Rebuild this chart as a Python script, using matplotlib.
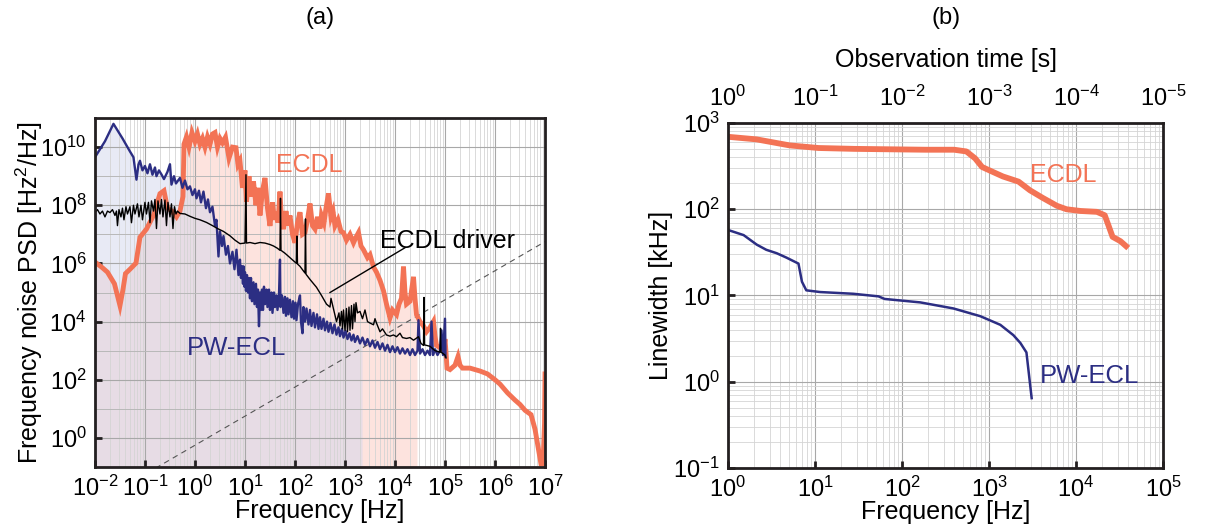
import numpy as np
import matplotlib
matplotlib.use("Agg")
import matplotlib.pyplot as plt
from matplotlib.ticker import FixedLocator, LogFormatterMathtext, NullFormatter

plt.rcParams.update({
    'font.family': ['Liberation Sans', 'DejaVu Sans'],
    'mathtext.fontset': 'custom',
    'mathtext.rm': 'Liberation Sans',
    'mathtext.it': 'Liberation Sans:italic',
    'mathtext.bf': 'Liberation Sans:bold',
    'mathtext.default': 'regular',
    'axes.unicode_minus': False,
})

# ---------------- data (log10 values) ----------------
# panel (a): frequency noise PSD, pairs (log10 f [Hz], log10 S [Hz^2/Hz])
pw_ecl_psd = [
    (-2.0, 9.65), (-1.8, 10.2), (-1.63, 10.8), (-1.45, 10.3), (-1.3, 9.85), (-1.23, 9.65),
    (-1.17, 8.88), (-1.13, 9.4), (-1.1, 9.53), (-1.05, 9.2), (-1.0, 9.35), (-0.95, 9.1),
    (-0.9, 9.41), (-0.85, 9.05), (-0.8, 9.3), (-0.77, 9.0), (-0.72, 9.2), (-0.67, 9.06),
    (-0.62, 8.9), (-0.55, 9.15), (-0.5, 9.41), (-0.47, 8.71), (-0.42, 9.0), (-0.38, 8.75),
    (-0.3, 8.94), (-0.25, 8.6), (-0.2, 8.85), (-0.15, 8.55), (-0.1, 8.65), (-0.05, 8.35),
    (0.0, 8.55), (0.03, 8.24), (0.08, 8.5), (0.12, 8.1), (0.17, 8.47), (0.22, 7.9),
    (0.26, 8.2), (0.3, 7.76), (0.35, 7.95), (0.4, 7.3), (0.43, 7.5), (0.47, 6.24),
    (0.5, 7.1), (0.54, 6.6), (0.57, 6.94), (0.62, 6.3), (0.66, 6.6), (0.7, 6.0),
    (0.75, 6.4), (0.79, 5.8), (0.83, 6.47), (0.87, 5.6), (0.9, 6.13), (0.92, 5.5),
    (0.94, 5.9), (0.96, 5.3), (0.97, 5.9), (0.99, 5.2), (1.0, 5.7), (1.02, 5.06),
    (1.04, 5.6), (1.06, 5.0), (1.08, 5.5), (1.1, 4.8), (1.12, 5.5), (1.14, 4.7),
    (1.17, 5.35), (1.19, 4.6), (1.22, 5.3), (1.24, 4.5), (1.26, 5.1), (1.28, 3.84),
    (1.3, 5.0), (1.32, 4.4), (1.34, 5.1), (1.36, 4.4), (1.38, 5.2), (1.4, 4.6),
    (1.43, 5.1), (1.45, 4.5), (1.48, 5.1), (1.5, 4.4), (1.53, 5.0), (1.55, 4.3),
    (1.58, 5.0), (1.6, 4.5), (1.63, 4.9), (1.65, 4.4), (1.68, 4.9), (1.7, 6.13),
    (1.71, 4.5), (1.74, 4.9), (1.77, 4.3), (1.8, 4.85), (1.82, 4.2), (1.85, 4.8),
    (1.87, 4.25), (1.9, 4.75), (1.93, 4.15), (1.96, 4.7), (1.98, 4.1), (2.01, 4.65),
    (2.03, 4.05), (2.06, 4.6), (2.1, 4.9), (2.12, 4.0), (2.15, 3.6), (2.17, 4.5),
    (2.2, 4.0), (2.23, 4.45), (2.27, 3.9), (2.3, 4.4), (2.33, 3.85), (2.37, 4.3),
    (2.4, 3.8), (2.44, 4.25), (2.47, 3.75), (2.5, 4.15), (2.53, 3.75), (2.57, 4.1),
    (2.6, 3.7), (2.64, 4.0), (2.67, 3.65), (2.71, 3.95), (2.75, 3.6), (2.79, 3.9),
    (2.83, 3.55), (2.87, 3.8), (2.9, 3.5), (2.94, 3.75), (2.97, 3.45), (3.01, 3.68),
    (3.05, 3.4), (3.09, 3.6), (3.13, 3.35), (3.17, 3.55), (3.2, 3.3), (3.25, 3.5),
    (3.3, 3.25), (3.35, 3.45), (3.4, 3.2), (3.45, 3.4), (3.5, 3.15), (3.55, 3.35),
    (3.6, 3.1), (3.65, 3.3), (3.7, 3.05), (3.75, 3.25), (3.8, 3.0), (3.85, 3.2),
    (3.9, 2.95), (3.95, 3.15), (4.0, 2.95), (4.05, 3.12), (4.1, 2.9), (4.15, 3.08),
    (4.2, 2.9), (4.25, 3.05), (4.3, 2.85), (4.35, 3.05), (4.4, 2.85), (4.45, 3.0),
    (4.47, 4.05), (4.5, 2.9), (4.55, 3.05), (4.6, 2.85), (4.65, 3.0), (4.7, 2.85),
    (4.73, 4.0), (4.76, 2.85), (4.8, 3.05), (4.85, 2.85), (4.9, 3.0), (4.93, 3.7),
    (4.96, 2.85), (5.0, 4.1), (5.01, 2.8),
]

ecdl_psd = [
    (-2.0, 6.05), (-1.85, 5.85), (-1.75, 5.7), (-1.61, 5.3), (-1.5, 4.55), (-1.44, 5.1),
    (-1.39, 5.65), (-1.3, 5.8), (-1.18, 6.01), (-1.1, 6.9), (-0.97, 7.18), (-0.83, 7.65),
    (-0.7, 8.4), (-0.62, 8.5), (-0.55, 7.9), (-0.46, 7.8), (-0.37, 7.6), (-0.3, 7.8),
    (-0.24, 8.3), (-0.22, 10.1), (-0.17, 10.35), (-0.12, 10.0), (-0.06, 10.5), (0.0, 10.2),
    (0.05, 10.45), (0.1, 10.1), (0.15, 10.3), (0.2, 10.0), (0.25, 10.35), (0.3, 10.1),
    (0.35, 10.45), (0.4, 10.5), (0.45, 10.0), (0.5, 10.3), (0.55, 10.15), (0.61, 10.34),
    (0.68, 9.62), (0.75, 10.0), (0.82, 9.98), (0.86, 9.4), (0.9, 9.53), (0.95, 8.6),
    (1.0, 9.2), (1.03, 8.12), (1.08, 9.0), (1.12, 8.3), (1.17, 8.82), (1.22, 8.0),
    (1.26, 8.6), (1.3, 7.65), (1.35, 8.5), (1.4, 8.94), (1.45, 7.9), (1.5, 7.29),
    (1.55, 8.1), (1.59, 7.5), (1.63, 7.76), (1.66, 7.4), (1.7, 8.47), (1.73, 7.5),
    (1.77, 7.18), (1.82, 7.8), (1.86, 7.3), (1.9, 7.65), (1.95, 7.0), (2.0, 6.71),
    (2.05, 7.4), (2.1, 7.76), (2.15, 7.0), (2.2, 7.06), (2.25, 7.5), (2.3, 8.06),
    (2.35, 7.3), (2.4, 7.18), (2.45, 7.6), (2.5, 7.2), (2.53, 7.65), (2.58, 7.4),
    (2.62, 7.9), (2.67, 8.41), (2.72, 7.6), (2.76, 7.8), (2.8, 7.29), (2.86, 7.5),
    (2.92, 7.1), (2.97, 7.06), (3.03, 6.8), (3.1, 7.0), (3.17, 6.71), (3.22, 6.9),
    (3.27, 7.06), (3.32, 6.6), (3.37, 6.47), (3.45, 6.2), (3.5, 6.3), (3.57, 5.88),
    (3.63, 5.7), (3.7, 5.42), (3.77, 5.06), (3.83, 4.6), (3.9, 4.13), (3.95, 4.4),
    (4.03, 4.24), (4.08, 4.6), (4.13, 4.8), (4.17, 5.89), (4.2, 5.0), (4.23, 4.6),
    (4.3, 4.7), (4.37, 5.54), (4.4, 4.8), (4.43, 4.24), (4.5, 4.0), (4.57, 3.85),
    (4.63, 3.65), (4.7, 3.8), (4.77, 4.01), (4.8, 3.5), (4.83, 3.18), (4.9, 3.1),
    (4.97, 3.0), (5.0, 3.4), (5.02, 2.95), (5.04, 2.4), (5.1, 2.35), (5.2, 2.5),
    (5.26, 2.8), (5.3, 2.5), (5.35, 2.4), (5.5, 2.4), (5.7, 2.3), (5.85, 2.2),
    (6.0, 2.0), (6.1, 1.85), (6.25, 1.55), (6.4, 1.3), (6.5, 1.15), (6.6, 0.95),
    (6.72, 0.8), (6.8, 0.3), (6.86, -0.3), (6.92, -0.9), (6.96, -0.9), (6.99, 0.5),
    (7.0, 2.2),
]

driver_psd = [
    (-2.0, 7.75), (-1.95, 7.85), (-1.9, 7.7), (-1.85, 7.8), (-1.8, 7.6), (-1.75, 7.8),
    (-1.7, 7.75), (-1.65, 7.85), (-1.6, 7.65), (-1.57, 7.8), (-1.55, 7.3), (-1.52, 7.85),
    (-1.48, 7.6), (-1.45, 7.9), (-1.42, 7.5), (-1.38, 7.95), (-1.35, 7.7), (-1.3, 7.95),
    (-1.27, 7.4), (-1.23, 8.0), (-1.2, 7.7), (-1.15, 8.05), (-1.12, 7.6), (-1.08, 8.0),
    (-1.05, 7.5), (-1.0, 8.1), (-0.97, 7.7), (-0.93, 8.1), (-0.9, 7.4), (-0.87, 8.15),
    (-0.83, 7.8), (-0.8, 8.2), (-0.77, 7.2), (-0.74, 8.15), (-0.7, 7.7), (-0.67, 8.2),
    (-0.64, 7.6), (-0.6, 8.18), (-0.57, 7.3), (-0.54, 8.1), (-0.5, 7.6), (-0.47, 8.05),
    (-0.44, 7.2), (-0.41, 7.95), (-0.38, 7.7), (-0.35, 7.8), (-0.3, 7.72), (-0.2, 7.7),
    (-0.1, 7.62), (0.0, 7.55), (0.1, 7.5), (0.23, 7.41), (0.35, 7.3), (0.45, 7.2),
    (0.57, 7.1), (0.7, 6.95), (0.8, 6.8), (0.9, 6.68), (1.0, 6.7), (1.02, 9.05),
    (1.03, 6.7), (1.1, 6.72), (1.2, 6.68), (1.3, 6.72), (1.4, 6.7), (1.5, 6.65),
    (1.57, 6.6), (1.65, 6.52), (1.7, 6.45), (1.71, 8.24), (1.72, 6.45), (1.8, 6.35),
    (1.9, 6.2), (2.0, 6.05), (2.03, 6.0), (2.04, 6.94), (2.05, 5.98), (2.1, 5.9),
    (2.2, 5.67), (2.21, 7.53), (2.22, 5.63), (2.3, 5.45), (2.43, 5.18), (2.53, 4.9),
    (2.63, 4.6), (2.7, 4.5), (2.72, 4.8), (2.83, 4.0), (2.88, 4.3), (2.9, 3.85),
    (2.93, 4.35), (2.95, 3.75), (2.97, 4.4), (3.0, 3.7), (3.03, 4.45), (3.05, 3.65),
    (3.08, 4.5), (3.1, 3.7), (3.13, 4.55), (3.15, 3.75), (3.18, 4.6), (3.2, 4.0),
    (3.22, 4.65), (3.25, 4.3), (3.3, 4.35), (3.35, 4.1), (3.4, 4.4), (3.45, 4.0),
    (3.5, 3.95), (3.57, 3.89), (3.6, 4.1), (3.63, 3.95), (3.7, 3.65), (3.75, 3.75),
    (3.83, 3.54), (3.9, 3.5), (3.97, 3.54), (4.03, 3.48), (4.1, 3.6), (4.15, 3.45),
    (4.23, 3.42), (4.3, 3.45), (4.37, 3.36), (4.47, 3.48), (4.52, 3.25), (4.57, 3.18),
    (4.58, 4.83), (4.59, 3.2), (4.7, 3.15), (4.8, 3.0), (4.9, 2.95), (4.91, 3.77),
    (4.92, 2.95), (5.0, 2.85), (5.02, 2.75),
]

# beta-separation reference line end points (Hz, Hz^2/Hz)
beta_line_f = [1e-2, 1e7]
beta_line_s = [5.6e-3, 5.6e6]

# integration upper limits used for the shaded areas (Hz)
pw_ecl_fill_max = 2.2e3
ecdl_fill_max = 2.75e4

# panel (b): linewidth vs frequency, log10 f [Hz] and log10 linewidth [kHz]
ecdl_lw_logf = [0.0, 0.33, 0.71, 1.04, 1.45, 2.27, 2.6, 2.74, 2.84, 2.92, 3.05, 3.16,
                3.34, 3.47, 3.62, 3.78, 3.89, 4.05, 4.24, 4.33, 4.37, 4.42, 4.51, 4.6]
ecdl_lw_log = [2.84, 2.81, 2.74, 2.71, 2.7, 2.69, 2.69, 2.67, 2.59, 2.49, 2.43, 2.38,
               2.32, 2.22, 2.13, 2.04, 2.0, 1.98, 1.97, 1.93, 1.82, 1.68, 1.63, 1.55]
pw_lw_logf = [0.0, 0.18, 0.33, 0.44, 0.56, 0.67, 0.81, 0.85, 0.9, 1.06, 1.44, 1.73,
              1.8, 2.21, 2.59, 2.9, 3.13, 3.28, 3.36, 3.43, 3.49]
pw_lw_log = [1.76, 1.70, 1.59, 1.53, 1.49, 1.44, 1.37, 1.16, 1.06, 1.04, 1.02, 0.99,
             0.96, 0.92, 0.85, 0.76, 0.66, 0.54, 0.45, 0.34, -0.19]

# tick definitions
a_xticks = [1e-2, 1e-1, 1e0, 1e1, 1e2, 1e3, 1e4, 1e5, 1e6, 1e7]
a_yticks = [1e0, 1e2, 1e4, 1e6, 1e8, 1e10]
b_xticks = [1e0, 1e1, 1e2, 1e3, 1e4, 1e5]
b_yticks = [1e-1, 1e0, 1e1, 1e2, 1e3]
obs_time_ticks = [1e0, 1e-1, 1e-2, 1e-3, 1e-4, 1e-5]
obs_time_labels = ['$10^{0}$', '$10^{-1}$', '$10^{-2}$', '$10^{-3}$', '$10^{-4}$', '$10^{-5}$']

# ---------------- styling ----------------
C_ECDL = '#f37355'
C_PW = '#2c2e83'
FS = 17

fig = plt.figure(figsize=(12.19, 5.29), dpi=100)
axa = fig.add_axes([0.0779, 0.1172, 0.3692, 0.6597])
axb = fig.add_axes([0.5972, 0.1153, 0.3569, 0.6522])


def to_arrays(pairs):
    arr = np.array(pairs, dtype=float)
    return np.power(10.0, arr[:, 0]), np.power(10.0, arr[:, 1])


def fill_under(ax, f, s, fmax, **kw):
    m = f <= fmax
    end = 10 ** np.interp(np.log10(fmax), np.log10(f), np.log10(s))
    fx = np.append(f[m], fmax)
    sx = np.append(s[m], end)
    ax.fill_between(fx, 1e-3, sx, lw=0, zorder=1, **kw)


def style_axes(ax):
    ax.set_axisbelow('line')
    for sp in ax.spines.values():
        sp.set_linewidth(2.0)
        sp.set_color('#231f20')
    ax.tick_params(which='major', direction='in', length=5, width=2, labelsize=FS,
                   color='#231f20', pad=6)
    ax.tick_params(which='minor', direction='in', length=0)
    ax.grid(which='major', color='#a8a8a8', lw=0.8)
    ax.grid(which='minor', color='#d4d4d4', lw=0.6)


# ---------------- panel (a) ----------------
f_pw, s_pw = to_arrays(pw_ecl_psd)
f_ec, s_ec = to_arrays(ecdl_psd)
f_dr, s_dr = to_arrays(driver_psd)

axa.set_xscale('log')
axa.set_yscale('log')
axa.set_xlim(1e-2, 1e7)
axa.set_ylim(1e-1, 1e11)

fill_under(axa, f_ec, s_ec, ecdl_fill_max, color='#fde3de')
fill_under(axa, f_pw, s_pw, pw_ecl_fill_max, color='#d3d7ec', alpha=0.5)

axa.plot(beta_line_f, beta_line_s, color='#555555', lw=0.8, ls=(0, (5, 4)), zorder=1.8)
axa.plot(f_ec, s_ec, color=C_ECDL, lw=3.5, zorder=2, solid_joinstyle='miter')
axa.plot(f_pw, s_pw, color=C_PW, lw=1.7, zorder=2.1)
axa.plot(f_dr, s_dr, color='black', lw=1.0, zorder=2.2)

style_axes(axa)
axa.xaxis.set_major_locator(FixedLocator(a_xticks))
axa.xaxis.set_major_formatter(LogFormatterMathtext())
axa.xaxis.set_minor_locator(FixedLocator(
    [m * d for d in a_xticks[:-1] for m in range(2, 10)]))
axa.xaxis.set_minor_formatter(NullFormatter())
axa.yaxis.set_major_locator(FixedLocator(a_yticks))
axa.yaxis.set_major_formatter(LogFormatterMathtext())
axa.yaxis.set_minor_locator(FixedLocator([10.0 ** k for k in range(-1, 12, 2)]))
axa.yaxis.set_minor_formatter(NullFormatter())
axa.grid(which='minor', axis='y', color='#b8b8b8', lw=0.7)

axa.text(10 ** 1.63, 10 ** 9.4, 'ECDL', color=C_ECDL, fontsize=18, va='center', ha='left')
axa.text(10 ** -0.16, 10 ** 3.1, 'PW-ECL', color=C_PW, fontsize=18.5, va='center', ha='left')
axa.text(10 ** 3.71, 10 ** 6.78, 'ECDL driver', color='black', fontsize=18, va='center', ha='left')
axa.plot([10 ** 2.7, 10 ** 4.2], [10 ** 5.0, 10 ** 6.54], color='black', lw=1.0, zorder=3)

axa.set_xlabel('Frequency [Hz]', fontsize=18)
axa.xaxis.set_label_coords(0.5, -0.093)
axa.set_ylabel('Frequency noise PSD [Hz$^2$/Hz]', fontsize=18)
axa.yaxis.set_label_coords(-0.112, 0.5)
fig.text(0.2625, 0.966, '(a)', fontsize=17, ha='center', va='center')

# ---------------- panel (b) ----------------
axb.set_xscale('log')
axb.set_yscale('log')
axb.set_xlim(1e0, 1e5)
axb.set_ylim(1e-1, 1e3)

axb.plot(10 ** np.array(ecdl_lw_logf), 10 ** np.array(ecdl_lw_log), color=C_ECDL, lw=4.2,
         solid_capstyle='butt', zorder=2)
axb.plot(10 ** np.array(pw_lw_logf), 10 ** np.array(pw_lw_log), color=C_PW, lw=1.8, zorder=2.1)

style_axes(axb)
axb.xaxis.set_major_locator(FixedLocator(b_xticks))
axb.xaxis.set_major_formatter(LogFormatterMathtext())
axb.xaxis.set_minor_locator(FixedLocator(
    [m * d for d in b_xticks[:-1] for m in range(2, 10)]))
axb.xaxis.set_minor_formatter(NullFormatter())
axb.yaxis.set_major_locator(FixedLocator(b_yticks))
axb.yaxis.set_major_formatter(LogFormatterMathtext())
axb.yaxis.set_minor_locator(FixedLocator(
    [m * d for d in b_yticks[:-1] for m in range(2, 10)]))
axb.yaxis.set_minor_formatter(NullFormatter())

axb.text(10 ** 3.47, 10 ** 2.4, 'ECDL', color=C_ECDL, fontsize=18, va='center', ha='left')
axb.text(10 ** 3.59, 10 ** 0.07, 'PW-ECL', color=C_PW, fontsize=18.5, va='center', ha='left')

axb.set_xlabel('Frequency [Hz]', fontsize=18)
axb.xaxis.set_label_coords(0.5, -0.093)
axb.set_ylabel('Linewidth [kHz]', fontsize=18)
axb.yaxis.set_label_coords(-0.126, 0.5)

axt = axb.twiny()
axt.set_xscale('log')
axt.set_xlim(axb.get_xlim())
axt.xaxis.set_major_locator(FixedLocator([1.0 / t for t in obs_time_ticks]))
axt.set_xticklabels(obs_time_labels)
axt.xaxis.set_minor_locator(FixedLocator([]))
axt.tick_params(axis='x', which='major', direction='in', length=0, labelsize=FS, pad=9)
for sp in axt.spines.values():
    sp.set_visible(False)
axt.set_xlabel('Observation time [s]', fontsize=18, labelpad=13)
fig.text(0.7757, 0.966, '(b)', fontsize=17, ha='center', va='center')

fig.savefig('out.png', dpi=100)
